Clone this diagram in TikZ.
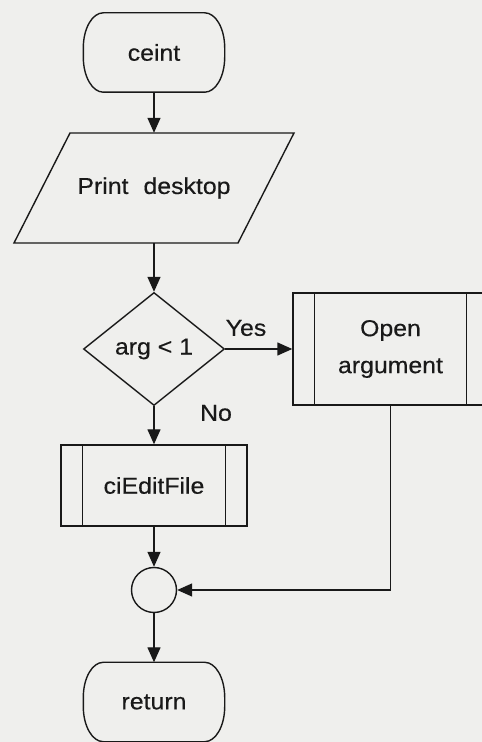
\documentclass[tikz,border=0pt]{standalone}
\usepackage{fontspec}
\setmainfont{Liberation Sans}[FakeStretch=1.08,FakeBold=0.4]
\usetikzlibrary{arrows.meta,shapes.geometric}

\definecolor{paper}{RGB}{239,239,237}
\definecolor{ink}{RGB}{25,25,25}

% outline of a terminator: flat top and bottom, elliptic ends
\newcommand\termoutline[1]{%
  \draw[base]
    ([xshift=20pt]#1.north west) -- ([xshift=-20pt]#1.north east)
    arc[start angle=90,end angle=0,x radius=20pt,y radius=35pt]
    -- ([yshift=35pt]#1.south east)
    arc[start angle=0,end angle=-90,x radius=20pt,y radius=35pt]
    -- ([xshift=20pt]#1.south west)
    arc[start angle=270,end angle=180,x radius=20pt,y radius=35pt]
    -- ([yshift=-35pt]#1.north west)
    arc[start angle=180,end angle=90,x radius=20pt,y radius=35pt]
    -- cycle;}

% the two inner bars of a predefined-process box
\newcommand\procbars[1]{%
  \draw[base] ([xshift=22pt]#1.north west) -- ([xshift=22pt]#1.south west);
  \draw[base] ([xshift=-22pt]#1.north east) -- ([xshift=-22pt]#1.south east);}

\begin{document}
\begin{tikzpicture}[x=1pt,y=1pt,color=ink,
  every node/.style={font=\fontsize{23}{37}\selectfont},
  base/.style={line width=1.4pt},
  arrow/.style={base,-{Triangle[length=15pt,width=13pt]}},
  term/.style={rectangle,minimum width=141pt,minimum height=79pt,inner sep=0pt},
  iobox/.style={rectangle,minimum width=200pt,minimum height=110pt,inner sep=0pt},
  decision/.style={diamond,draw,base,minimum width=141pt,minimum height=113pt,inner sep=0pt},
  subproc/.style={rectangle,draw,base,inner sep=0pt,align=center},
  joint/.style={circle,draw,base,minimum size=45pt,inner sep=0pt},
  lbl/.style={inner sep=0pt}]

\useasboundingbox (0,0) rectangle (482,742);
\clip (0,0) rectangle (482,742);
\fill[paper] (0,0) rectangle (482,742);

% nodes
\node[term] (ceint) at (154,689.5) {ceint};
\node[iobox] (print) at (154,554) {Print\hspace{15pt}desktop};
\node[decision] (test) at (154,393) {arg < 1};
\node[subproc,minimum width=195pt,minimum height=112pt] (open) at (390.5,393) {Open\\argument};
\node[subproc,minimum width=186pt,minimum height=81pt] (edit) at (154,256.5) {ciEditFile};
\node[joint] (join) at (154,152) {};
\node[term] (ret) at (154,40) {return};

\node[lbl] (yes) at (246,414) {Yes};
\node[lbl] (no) at (216,329) {No};

% outlines
\termoutline{ceint}
\termoutline{ret}
\draw[base,shift={(print.center)}] (-84,55) -- (140,55) -- (84,-55) -- (-140,-55) -- cycle;
\procbars{open}
\procbars{edit}

% connectors
\draw[arrow] (ceint.south) -- (print.north);
\draw[arrow] (print.south) -- (test.north);
\draw[arrow] (test.east) -- (open.west);
\draw[arrow] (test.south) -- (edit.north);
\draw[arrow] (edit.south) -- (join.north);
\draw[arrow] (open.south) |- (join.east);
\draw[arrow] (join.south) -- (ret.north);
\end{tikzpicture}
\end{document}
